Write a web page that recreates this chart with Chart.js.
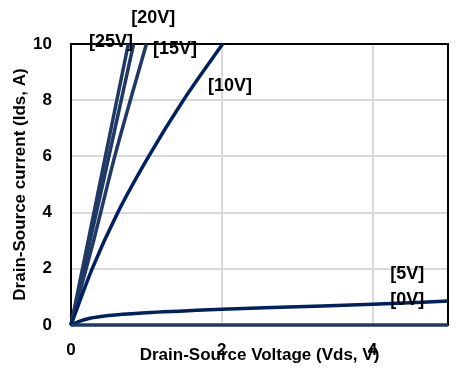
<!DOCTYPE html>
<html>
<head>
<meta charset="utf-8">
<script src="https://cdn.jsdelivr.net/npm/chart.js@4.4.0/dist/chart.umd.min.js"></script>
<style>
  html, body { margin: 0; padding: 0; background: #fff; }
  #wrap { width: 468px; height: 368px; }
</style>
</head>
<body>
<div id="wrap"><canvas id="chart"></canvas></div>
<script>
// gate voltage series, Vds (V) and Ids (A)
const seriesNames = ['[0V]', '[5V]', '[10V]', '[15V]', '[20V]', '[25V]'];

const vds0V = [0, 5];
const ids0V = [0, 0];

const vds5V = [0, 0.1, 0.25, 0.5, 1, 1.5, 2, 3, 4, 5];
const ids5V = [0, 0.12, 0.24, 0.34, 0.44, 0.5, 0.56, 0.65, 0.74, 0.85];

const vds10V = [0, 0.28, 0.62, 1.03, 1.49, 2.01];
const ids10V = [0, 2, 4, 6, 8, 10];

const vds15V = [0, 0.3, 0.58, 1.0];
const ids15V = [0, 3, 6, 10];

const vds20V = [0, 0.42, 0.83];
const ids20V = [0, 5, 10];

const vds25V = [0, 0.38, 0.76];
const ids25V = [0, 5, 10];

const xTicks = [0, 2, 4];
const yTicks = [0, 2, 4, 6, 8, 10];

// where each bracketed label sits, in data units
const labelVds = [4.46, 4.46, 2.11, 1.38, 1.09, 0.53];
const labelIds = [0.89, 1.82, 8.51, 9.82, 10.93, 10.07];

const allVds = [vds0V, vds5V, vds10V, vds15V, vds20V, vds25V];
const allIds = [ids0V, ids5V, ids10V, ids15V, ids20V, ids25V];
const colors = ['#1f3864', '#002060', '#002060', '#1f3864', '#1f3864', '#1f3864'];

const datasets = seriesNames.map((name, i) => ({
    label: name,
    data: allVds[i].map((x, j) => ({ x: x, y: allIds[i][j] })),
    showLine: true,
    borderColor: colors[i],
    backgroundColor: colors[i],
    borderWidth: 3.5,
    pointRadius: 0,
    cubicInterpolationMode: 'monotone',
    clip: false
}));

const font = "'Liberation Sans', Arial, sans-serif";

const frameAndLabels = {
    id: 'frameAndLabels',
    beforeDatasetsDraw(chart) {
        const { ctx, chartArea: a } = chart;
        ctx.save();
        ctx.strokeStyle = '#000';
        ctx.lineWidth = 2;
        ctx.strokeRect(a.left, a.top, a.right - a.left, a.bottom - a.top);
        ctx.restore();
    },
    afterDatasetsDraw(chart) {
        const { ctx, scales } = chart;
        ctx.save();
        ctx.font = 'bold 18px ' + font;
        ctx.fillStyle = '#000';
        ctx.textAlign = 'center';
        ctx.textBaseline = 'middle';
        seriesNames.forEach((name, i) => {
            ctx.fillText(name, scales.x.getPixelForValue(labelVds[i]), scales.y.getPixelForValue(labelIds[i]));
        });
        ctx.restore();
    }
};

new Chart(document.getElementById('chart'), {
    type: 'scatter',
    data: { datasets: datasets },
    options: {
        responsive: true,
        maintainAspectRatio: false,
        animation: false,
        layout: { padding: { top: 44, right: 20, left: 0, bottom: 0 } },
        plugins: { legend: { display: false }, tooltip: { enabled: false } },
        scales: {
            x: {
                type: 'linear',
                min: 0,
                max: 5,
                afterBuildTicks: s => { s.ticks = xTicks.map(v => ({ value: v })); },
                afterFit: s => { s.height = 43; },
                grid: { color: '#d9d9d9', lineWidth: 2, drawTicks: false },
                border: { display: false },
                ticks: { color: '#000', padding: 15, font: { family: font, size: 17, weight: 'bold' } },
                title: {
                    display: true,
                    text: 'Drain-Source Voltage (Vds, V)',
                    color: '#000',
                    font: { family: font, size: 17, weight: 'bold' },
                    padding: { top: 0, bottom: 2 }
                }
            },
            y: {
                min: 0,
                max: 10,
                afterBuildTicks: s => { s.ticks = yTicks.map(v => ({ value: v })); },
                afterFit: s => { s.width = 71; },
                grid: { color: '#d9d9d9', lineWidth: 2, drawTicks: false },
                border: { display: false },
                ticks: { color: '#000', padding: 19, font: { family: font, size: 17, weight: 'bold' } },
                title: {
                    display: true,
                    text: 'Drain-Source current (Ids, A)',
                    color: '#000',
                    font: { family: font, size: 17, weight: 'bold' },
                    padding: { top: 10, bottom: 0 }
                }
            }
        }
    },
    plugins: [frameAndLabels]
});
</script>
</body>
</html>
